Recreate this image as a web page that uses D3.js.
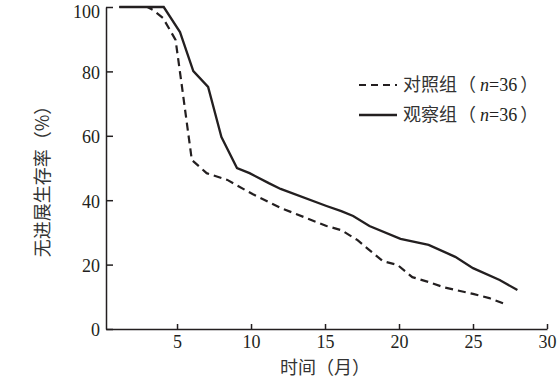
<!DOCTYPE html>
<meta charset="utf-8">
<style>
	body { margin: 0; background: #fff; }
	svg { display: block; }
	.tick text, .num { font-family: "Liberation Serif", serif; font-size: 18px; fill: #231f20; }
	.cjk { font-family: "Noto Sans CJK SC", sans-serif; font-size: 18px; fill: #333; }
	.axis path, .axis line { stroke: #231f20; stroke-width: 1.5; }
</style>
<body>
<svg id="chart" width="559" height="382"></svg>
<script src="https://d3js.org/d3.v7.min.js"></script>
<script>
	// months / survival (%)
	var ctrlMonth = [1.1, 3.0, 3.4, 4.05, 4.9, 5.3, 5.7, 6.0, 7.0, 8.4, 10.1, 12, 15.1, 16.1, 17.2, 18, 18.9, 19.9, 20.9, 22, 23, 25, 26.1, 27.3];
	var ctrlRate  = [100, 100, 99, 96.6, 89.8, 76.4, 62.7, 52.5, 48.4, 46.3, 41.9, 37.6, 32, 30.7, 27.6, 24.5, 21.1, 19.9, 16.1, 14.6, 13, 10.9, 9.6, 7.5];
	var obsMonth  = [1.1, 4.1, 5.2, 6.1, 7.1, 8.0, 9.05, 9.9, 11.2, 12, 15.1, 16.1, 16.9, 18, 20.1, 22, 23.8, 25, 26.8, 28];
	var obsRate   = [100, 100, 92.2, 80.1, 75.2, 59.6, 50, 48.4, 45.3, 43.5, 38.2, 36.6, 35.1, 32, 28, 26.1, 22.4, 18.9, 15.2, 12.1];
	var xTicks = [5, 10, 15, 20, 25, 30];
	var yTicks = [0, 20, 40, 60, 80, 100];
	var legendLabels = ["对照组", "观察组"];

	var svg = d3.select("#chart");

	var x = d3.scaleLinear().domain([0.2, 30]).range([106, 547]);
	var y = d3.scaleLinear().domain([0, 100]).range([329, 7]);

	svg.append("g")
		.attr("class", "axis")
		.attr("transform", "translate(0," + y(0) + ")")
		.call(d3.axisBottom(x).tickValues(xTicks).tickSizeInner(-5).tickSizeOuter(0).tickPadding(6));

	svg.append("g")
		.attr("class", "axis")
		.attr("transform", "translate(" + x(0.2) + ",0)")
		.call(d3.axisLeft(y).tickValues(yTicks).tickSizeInner(-7).tickSizeOuter(0).tickPadding(6))
		.call(function(g) {
			g.selectAll(".tick text").attr("dy", function(d) { return d == 100 ? "0.6em" : "0.38em"; });
		});

	var line = d3.line()
		.x(function(d) { return x(d[0]); })
		.y(function(d) { return y(d[1]); });

	var ctrl = ctrlMonth.map(function(m, i) { return [m, ctrlRate[i]]; });
	var obs = obsMonth.map(function(m, i) { return [m, obsRate[i]]; });

	svg.append("path")
		.datum(ctrl)
		.attr("d", line)
		.attr("fill", "none")
		.attr("stroke", "#231f20")
		.attr("stroke-width", 2.2)
		.attr("stroke-dasharray", "8,5");

	svg.append("path")
		.datum(obs)
		.attr("d", line)
		.attr("fill", "none")
		.attr("stroke", "#231f20")
		.attr("stroke-width", 2.3);

	// legend
	var leg = svg.append("g");
	[85, 115].forEach(function(ly, i) {
		leg.append("line")
			.attr("x1", 359).attr("x2", 397)
			.attr("y1", ly).attr("y2", ly)
			.attr("stroke", "#231f20")
			.attr("stroke-width", i == 0 ? 2.2 : 2.5)
			.attr("stroke-dasharray", i == 0 ? "7,5" : null);
		var t = leg.append("text")
			.attr("class", "cjk")
			.attr("x", 403).attr("y", ly + 6);
		t.append("tspan").text(legendLabels[i]);
		t.append("tspan").attr("dx", 1).text("（");
		t.append("tspan").attr("class", "num").attr("dx", 4).attr("font-style", "italic").text("n");
		t.append("tspan").attr("class", "num").text("=36");
		t.append("tspan").attr("dx", 3).text("）");
	});

	// axis titles
	svg.append("text")
		.attr("class", "cjk")
		.attr("text-anchor", "middle")
		.attr("x", 325).attr("y", 374)
		.text("时间（月）");

	svg.append("text")
		.attr("class", "cjk")
		.attr("text-anchor", "middle")
		.attr("dy", "0.35em")
		.attr("transform", "translate(43,177) rotate(-90)")
		.text("无进展生存率（%）");
</script>
</body>
